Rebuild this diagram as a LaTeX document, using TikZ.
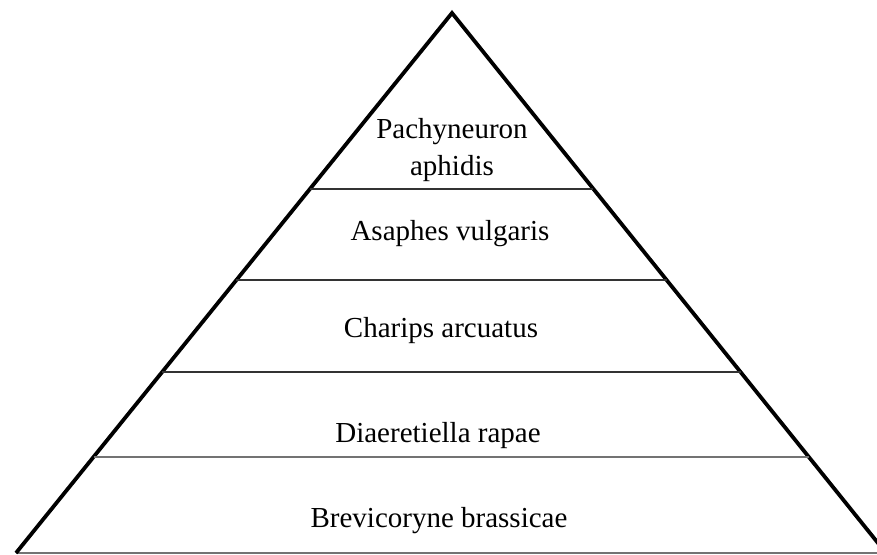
\documentclass[tikz,border=0pt]{standalone}
\usepackage{fontspec}
\setmainfont{Liberation Serif}
\usetikzlibrary{calc}
\begin{document}
\begin{tikzpicture}[x=1pt,y=-1pt,
  side/.style={line width=3.8pt,black,line join=miter},
  tier/.style={line width=1.4pt,black!80},
  tierlight/.style={line width=1.6pt,black!55},
  label/.style={font=\fontsize{29}{37}\selectfont,anchor=base,inner sep=0pt,align=center}]
  \useasboundingbox (0,0) rectangle (877,554);
  \clip (0,0) rectangle (877,554);
  % corners of the pyramid
  \coordinate (A) at (452,13);
  \coordinate (L) at (16,553);
  \coordinate (R) at (886,553);
  % base and sides
  \draw[tierlight] (L) -- (R);
  \draw[side] (L) -- (A) -- (R);
  % dividing lines between the levels
  \draw[tier] ($(A)!0.3259!(L)$) coordinate (d1l) -- ($(A)!0.3259!(R)$) coordinate (d1r);
  \draw[tier] ($(A)!0.4944!(L)$) coordinate (d2l) -- ($(A)!0.4944!(R)$) coordinate (d2r);
  \draw[tier] ($(A)!0.6648!(L)$) coordinate (d3l) -- ($(A)!0.6648!(R)$) coordinate (d3r);
  \draw[tierlight] ($(A)!0.8222!(L)$) coordinate (d4l) -- ($(A)!0.8222!(R)$) coordinate (d4r);
  % level names (a two-line node sits on the baseline of its last line)
  \node[label] (t1) at (452,175) {Pachyneuron\\aphidis};
  \node[label] (t2) at (450,240) {Asaphes vulgaris};
  \node[label] (t3) at (441,337) {Charips arcuatus};
  \node[label] (t4) at (438,442) {Diaeretiella rapae};
  \node[label] (t5) at (439,527) {Brevicoryne brassicae};
\end{tikzpicture}
\end{document}
